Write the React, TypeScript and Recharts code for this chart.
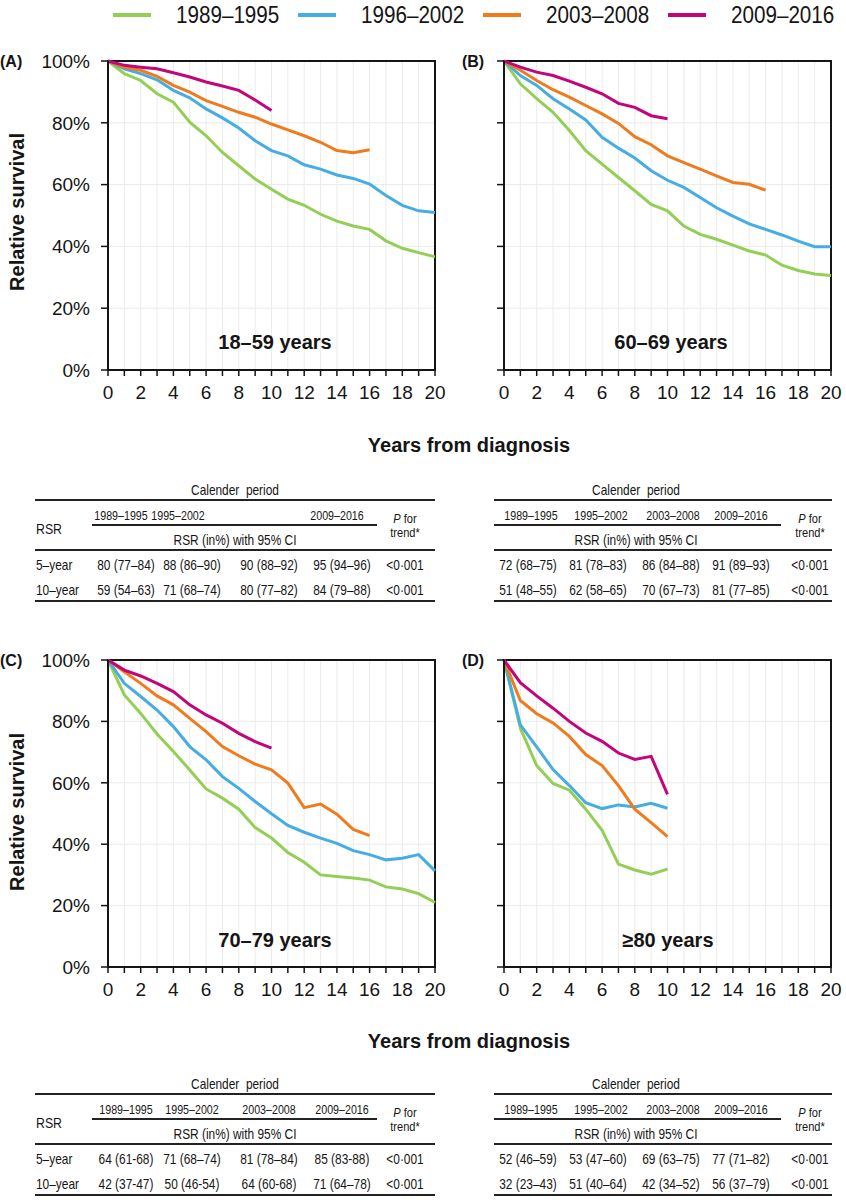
import React from 'react';
import { LineChart, Line, XAxis, YAxis, CartesianGrid, ReferenceArea } from 'recharts';

const YEARS = [0, 1, 2, 3, 4, 5, 6, 7, 8, 9, 10, 11, 12, 13, 14, 15, 16, 17, 18, 19, 20];
const PERIODS = ['1989–1995', '1996–2002', '2003–2008', '2009–2016'];
const COLORS = ['#94cf55', '#45ade2', '#ef7b1d', '#c2057b'];
const Y_TICKS = [0, 20, 40, 60, 80, 100];

// relative survival (%) by year, one array per calendar period
const A_1989 = [100, 95.9, 93.7, 89.4, 86.7, 80.2, 75.8, 70.4, 66.1, 61.8, 58.5, 55.3, 53.3, 50.4, 48.2, 46.6, 45.5, 41.8, 39.4, 38.0, 36.6];
const A_1996 = [100, 97.5, 95.9, 93.9, 90.5, 88.1, 84.5, 81.6, 78.3, 74.2, 71.0, 69.3, 66.4, 65.0, 63.1, 62.0, 60.2, 56.5, 53.3, 51.5, 51.0];
const A_2003 = [100, 98.0, 97.0, 95.0, 92.1, 89.9, 87.2, 85.3, 83.4, 81.8, 79.6, 77.7, 75.8, 73.7, 71.0, 70.3, 71.3];
const A_2009 = [100, 98.6, 98.0, 97.5, 96.2, 94.8, 93.2, 91.9, 90.5, 87.4, 84.0];

const B_1989 = [100, 92.6, 87.8, 83.4, 77.5, 71.0, 66.6, 62.3, 58.0, 53.6, 51.5, 46.6, 43.9, 42.3, 40.4, 38.5, 37.2, 33.9, 32.2, 31.1, 30.6];
const B_1996 = [100, 95.3, 92.1, 87.8, 84.5, 80.9, 75.3, 71.8, 68.6, 64.5, 61.4, 59.1, 55.8, 52.5, 49.8, 47.3, 45.5, 43.7, 41.7, 39.9, 39.9];
const B_2003 = [100, 97.0, 93.7, 90.7, 88.3, 85.6, 82.9, 79.8, 75.5, 72.9, 69.3, 67.1, 65.0, 62.8, 60.7, 60.1, 58.2];
const B_2009 = [100, 98.0, 96.4, 95.3, 93.5, 91.5, 89.4, 86.3, 85.0, 82.3, 81.3];

const C_1989 = [100, 88.6, 82.6, 75.9, 70.2, 64.2, 58.0, 55.0, 51.4, 45.4, 42.0, 37.3, 34.1, 30.0, 29.5, 29.0, 28.3, 26.1, 25.4, 23.9, 21.0];
const C_1996 = [100, 92.4, 88.1, 83.7, 78.3, 71.8, 67.5, 62.0, 58.2, 53.9, 49.9, 46.1, 43.9, 42.0, 40.3, 37.9, 36.6, 34.9, 35.4, 36.6, 31.3];
const C_2003 = [100, 96.2, 92.4, 88.3, 85.4, 81.0, 76.7, 71.8, 68.8, 66.1, 64.2, 59.9, 51.9, 53.1, 49.8, 44.8, 42.8];
const C_2009 = [100, 96.7, 94.8, 92.4, 89.7, 85.4, 82.1, 79.4, 76.1, 73.4, 71.3];

const D_1989 = [100, 77.8, 65.6, 59.8, 57.6, 51.4, 44.5, 33.5, 31.6, 30.2, 31.9];
const D_1996 = [100, 78.9, 71.7, 64.3, 59.1, 53.5, 51.6, 52.8, 52.1, 53.3, 51.7];
const D_2003 = [100, 86.8, 82.5, 79.5, 75.1, 69.2, 65.6, 59.1, 51.4, 47.0, 42.5];
const D_2009 = [100, 92.6, 88.3, 84.3, 80.0, 76.2, 73.5, 69.7, 67.6, 68.6, 56.2];

// tables: RSR (in%) with 95% CI
const TA_HEAD = ['1989–1995', '1995–2002', '', '2009–2016'];
const TA_5Y = ['80 (77–84)', '88 (86–90)', '90 (88–92)', '95 (94–96)', '<0·001'];
const TA_10Y = ['59 (54–63)', '71 (68–74)', '80 (77–82)', '84 (79–88)', '<0·001'];
const TB_HEAD = ['1989–1995', '1995–2002', '2003–2008', '2009–2016'];
const TB_5Y = ['72 (68–75)', '81 (78–83)', '86 (84–88)', '91 (89–93)', '<0·001'];
const TB_10Y = ['51 (48–55)', '62 (58–65)', '70 (67–73)', '81 (77–85)', '<0·001'];
const TC_HEAD = ['1989–1995', '1995–2002', '2003–2008', '2009–2016'];
const TC_5Y = ['64 (61-68)', '71 (68–74)', '81 (78–84)', '85 (83-88)', '<0·001'];
const TC_10Y = ['42 (37-47)', '50 (46-54)', '64 (60-68)', '71 (64–78)', '<0·001'];
const TD_HEAD = ['1989–1995', '1995–2002', '2003–2008', '2009–2016'];
const TD_5Y = ['52 (46–59)', '53 (47–60)', '69 (63–75)', '77 (71–82)', '<0·001'];
const TD_10Y = ['32 (23–43)', '51 (40–64)', '42 (34–52)', '56 (37–79)', '<0·001'];

const FONT = "'Liberation Sans', Arial, sans-serif";
const INK = '#151515';
const NARROW = 0.82;

const toRows = (series: number[][]) =>
  YEARS.map((year, i) => {
    const row: any = { year };
    series.forEach((s, k) => {
      row[`s${k}`] = s[i] ?? null;
    });
    return row;
  });

const Txt = ({ x, y, children, size = 13, bold = false, align = 'center', squeeze = 1, rotate = 0, style = {} }: any) => {
  const shift = align === 'center' ? 'translate(-50%, -50%)' : 'translate(0, -50%)';
  const extra = `${rotate ? ` rotate(${rotate}deg)` : ''}${squeeze !== 1 ? ` scaleX(${squeeze})` : ''}`;
  return (
    <div
      style={{
        position: 'absolute',
        left: x,
        top: y,
        transform: shift + extra,
        transformOrigin: align === 'center' ? '50% 50%' : '0 50%',
        fontFamily: FONT,
        fontSize: size,
        fontWeight: bold ? 700 : 400,
        color: INK,
        whiteSpace: 'nowrap',
        lineHeight: 1,
        ...style
      }}
    >
      {children}
    </div>
  );
};

const HLine = ({ x1, x2, y, w = 2 }: any) => (
  <div style={{ position: 'absolute', left: x1, top: y - w / 2, width: x2 - x1, height: w, background: '#222' }} />
);

interface PanelProps {
  left: number;
  top: number;
  series: number[][];
  showYLabels: boolean;
  xAxisHeight: number;
}

const Panel: React.FC<PanelProps> = ({ left, top, series, showYLabels, xAxisHeight }) => {
  const rows = toRows(series);
  return (
    <div style={{ position: 'absolute', left, top, width: 440, height: 380 }}>
      <LineChart width={440} height={380} data={rows} margin={{ top: 21, right: 25, left: 0, bottom: 10 }}>
        <CartesianGrid stroke="#ebebeb" strokeWidth={1} />
        <XAxis
          dataKey="year"
          type="number"
          domain={[0, 20]}
          ticks={YEARS}
          interval={0}
          height={xAxisHeight}
          tickFormatter={(v: number) => (v % 2 === 0 ? String(v) : '')}
          tickSize={6}
          tickMargin={10}
          axisLine={{ stroke: INK, strokeWidth: 2 }}
          tickLine={{ stroke: INK, strokeWidth: 1.5 }}
          tick={{ fill: INK, fontSize: 19, fontFamily: FONT }}
        />
        <YAxis
          type="number"
          domain={[0, 100]}
          ticks={Y_TICKS}
          interval={0}
          width={88}
          tickFormatter={(v: number) => (showYLabels ? `${v}%` : '')}
          tickSize={7}
          tickMargin={11}
          axisLine={{ stroke: INK, strokeWidth: 2 }}
          tickLine={{ stroke: INK, strokeWidth: 1.5 }}
          tick={{ fill: INK, fontSize: 19, fontFamily: FONT }}
        />
        <ReferenceArea x1={0} x2={20} y1={0} y2={100} fill="none" stroke={INK} strokeWidth={2} />
        {PERIODS.map((p, i) => (
          <Line
            key={p}
            dataKey={`s${i}`}
            name={p}
            type="linear"
            stroke={COLORS[i]}
            strokeWidth={3}
            dot={false}
            activeDot={false}
            connectNulls={false}
            isAnimationActive={false}
          />
        ))}
      </LineChart>
    </div>
  );
};

interface TableProps {
  top: number;
  x1: number;
  x2: number;
  underline: [number, number];
  titleX: number;
  headX: number[];
  colX: number[];
  pX: number;
  head: string[];
  rows: string[][];
  rowLabels?: boolean;
}

const RsrTable: React.FC<TableProps> = ({ top, x1, x2, underline, titleX, headX, colX, pX, head, rows, rowLabels }) => {
  const t = top;
  return (
    <>
      <Txt x={titleX} y={t - 10} size={14.5} squeeze={NARROW}>Calender&nbsp;&nbsp;period</Txt>
      <HLine x1={x1} x2={x2} y={t} w={2} />
      {head.map((h, i) => (h ? <Txt key={i} x={headX[i]} y={t + 15} size={13} squeeze={NARROW}>{h}</Txt> : null))}
      <HLine x1={underline[0]} x2={underline[1]} y={t + 25} w={1.5} />
      {rowLabels && <Txt x={36} y={t + 28} align="left" size={15} squeeze={NARROW}>RSR</Txt>}
      <Txt x={pX} y={t + 19} size={13.5} squeeze={NARROW}><i>P</i> for</Txt>
      <Txt x={pX} y={t + 33} size={13.5} squeeze={NARROW}>trend*</Txt>
      <Txt x={titleX} y={t + 40} size={14.5} squeeze={NARROW}>RSR (in%) with 95% CI</Txt>
      <HLine x1={x1} x2={x2} y={t + 50} w={2} />
      {rows.map((r, ri) => (
        <React.Fragment key={ri}>
          {rowLabels && (
            <Txt x={36} y={t + 65 + ri * 25} align="left" size={14.5} squeeze={NARROW}>{ri === 0 ? '5–year' : '10–year'}</Txt>
          )}
          {r.map((c, ci) => (
            <Txt key={ci} x={ci < 4 ? colX[ci] : pX} y={t + 65 + ri * 25} size={14.5} squeeze={NARROW}>{c}</Txt>
          ))}
        </React.Fragment>
      ))}
      <HLine x1={x1} x2={x2} y={t + 101} w={2} />
    </>
  );
};

const LEFT_COLS = [126, 192, 269, 342];
const RIGHT_COLS = [528, 598, 671, 741];
const RIGHT_HEAD = [531, 601, 673, 741];

export default function App() {
  return (
    <div style={{ position: 'absolute', left: 0, top: 0, width: 846, height: 1200, background: '#fff', overflow: 'hidden' }}>
      {/* legend */}
      <div style={{ position: 'absolute', left: 113, top: 1, height: 28, display: 'flex', alignItems: 'center' }}>
        {PERIODS.map((p, i) => (
          <div key={p} style={{ display: 'flex', alignItems: 'center', marginRight: i < 3 ? 19 : 0 }}>
            <div style={{ width: 38, height: 4, background: COLORS[i], marginRight: 25 }} />
            <span
              style={{
                fontFamily: FONT,
                fontSize: 24,
                color: INK,
                whiteSpace: 'nowrap',
                display: 'inline-block',
                width: 103,
                transform: 'scaleX(0.86)',
                transformOrigin: '0 50%'
              }}
            >
              {p}
            </span>
          </div>
        ))}
      </div>

      <Panel left={20} top={40} series={[A_1989, A_1996, A_2003, A_2009]} showYLabels xAxisHeight={40} />
      <Panel left={416} top={40} series={[B_1989, B_1996, B_2003, B_2009]} showYLabels={false} xAxisHeight={40} />
      <Panel left={20} top={639} series={[C_1989, C_1996, C_2003, C_2009]} showYLabels xAxisHeight={42} />
      <Panel left={416} top={639} series={[D_1989, D_1996, D_2003, D_2009]} showYLabels={false} xAxisHeight={42} />

      <Txt x={0} y={62} size={16} bold align="left">(A)</Txt>
      <Txt x={473} y={62} size={16} bold>(B)</Txt>
      <Txt x={0} y={661} size={16} bold align="left">(C)</Txt>
      <Txt x={473} y={661} size={16} bold>(D)</Txt>

      <Txt x={17} y={212} size={20} bold rotate={-90}>Relative survival</Txt>
      <Txt x={17} y={812} size={20} bold rotate={-90}>Relative survival</Txt>

      <Txt x={275} y={342} size={20} bold>18–59 years</Txt>
      <Txt x={671} y={342} size={20} bold>60–69 years</Txt>
      <Txt x={275} y={940} size={20} bold>70–79 years</Txt>
      <Txt x={668} y={940} size={20} bold>≥80 years</Txt>

      <Txt x={469} y={445} size={20} bold>Years from diagnosis</Txt>
      <Txt x={469} y={1041} size={20} bold>Years from diagnosis</Txt>

      <RsrTable top={500} x1={35} x2={435} underline={[92, 377]} titleX={235} headX={[121, 178, 257, 337]} colX={LEFT_COLS} pX={405} head={TA_HEAD} rows={[TA_5Y, TA_10Y]} rowLabels />
      <RsrTable top={500} x1={494} x2={832} underline={[494, 781]} titleX={636} headX={RIGHT_HEAD} colX={RIGHT_COLS} pX={810} head={TB_HEAD} rows={[TB_5Y, TB_10Y]} />
      <RsrTable top={1094} x1={35} x2={435} underline={[92, 377]} titleX={235} headX={LEFT_COLS} colX={LEFT_COLS} pX={405} head={TC_HEAD} rows={[TC_5Y, TC_10Y]} rowLabels />
      <RsrTable top={1094} x1={494} x2={832} underline={[494, 781]} titleX={636} headX={RIGHT_HEAD} colX={RIGHT_COLS} pX={810} head={TD_HEAD} rows={[TD_5Y, TD_10Y]} />
    </div>
  );
}
